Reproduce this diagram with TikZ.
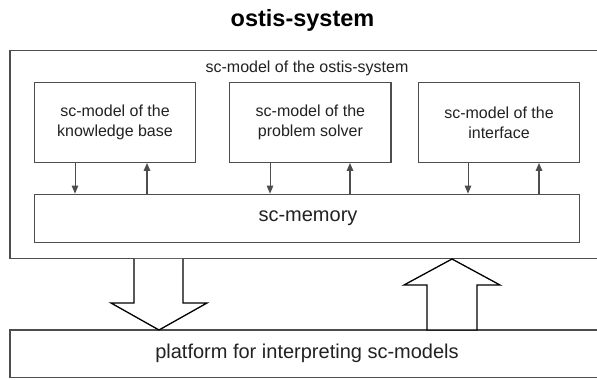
\documentclass[tikz,border=0pt]{standalone}
\usepackage{fontspec}
\setmainfont{Liberation Sans}
\usetikzlibrary{arrows.meta}
\definecolor{linec}{HTML}{4D4D4D}
\definecolor{textc}{HTML}{222222}
\begin{document}
\begin{tikzpicture}[x=1pt,y=-1pt,
  box/.style={draw=linec, line width=1.3pt, fill=white, inner sep=0pt, text=textc, align=center},
  lbl/.style={text=textc, inner sep=0pt, align=center, font=\fontsize{16}{20}\selectfont},
  lblbig/.style={text=textc, inner sep=0pt, align=center, font=\fontsize{20}{24}\selectfont},
  thinarr/.style={draw=linec, line width=1pt, -{Triangle[length=8pt,width=6.5pt]}},
  thickarr/.style={draw=linec, line width=1.5pt, -{Triangle[length=8pt,width=6.5pt]}},
  bigarr/.style={draw=black, line width=1.3pt, fill=white, line join=miter}]
\clip (0,0) rectangle (597,380);
\fill[white] (0,0) rectangle (597,380);
% title
\node[text=black, font=\bfseries\fontsize{23.5}{28}\selectfont, anchor=base] (title) at (302.5,26.7) {ostis-system};
% outer box
\node[box, minimum width=590pt, minimum height=207.8pt] (outer) at (305,154.4) {};
\node[lbl] (sub) at (307,68) {sc-model of the ostis-system};
% inner boxes
\node[box, minimum width=161.4pt, minimum height=80pt, font=\fontsize{16}{20}\selectfont] (kb) at (115,122.3) {sc-model of the\\knowledge base};
\node[box, minimum width=161.2pt, minimum height=80pt, font=\fontsize{16}{20}\selectfont] (ps) at (310.4,122.3) {sc-model of the\\problem solver};
\node[box, minimum width=161pt, minimum height=80pt, font=\fontsize{16}{20}\selectfont] (if) at (499,122.3) {sc-model of the\\interface};
\node[box, minimum width=545pt, minimum height=48pt] (mem) at (306.8,218.3) {};
\node[lblbig] (memtext) at (308,218.3) {sc-memory};
% platform
\node[box, minimum width=590pt, minimum height=47.3pt] (plat) at (305,353.7) {};
\node[lblbig] (plattext) at (307,353.7) {platform for interpreting sc-models};
% small arrows
\coordinate (xa) at (75,0);
\coordinate (xb) at (147,0);
\coordinate (xc) at (270,0);
\coordinate (xd) at (350,0);
\coordinate (xe) at (468,0);
\coordinate (xf) at (539,0);
\draw[thinarr] (xa |- kb.south) -- (xa |- mem.north);
\draw[thickarr] (xb |- mem.north) -- (xb |- kb.south);
\draw[thinarr] (xc |- ps.south) -- (xc |- mem.north);
\draw[thickarr] (xd |- mem.north) -- (xd |- ps.south);
\draw[thinarr] (xe |- if.south) -- (xe |- mem.north);
\draw[thickarr] (xf |- mem.north) -- (xf |- if.south);
% big arrows
\filldraw[bigarr] (134,258.9) -- (134,303) -- (111,303) -- (159,330) -- (207,303) -- (183,303) -- (183,258.9);
\filldraw[bigarr] (427,330) -- (427,285) -- (404,285) -- (452,259) -- (500,285) -- (477,285) -- (477,330) -- cycle;
\end{tikzpicture}
\end{document}
